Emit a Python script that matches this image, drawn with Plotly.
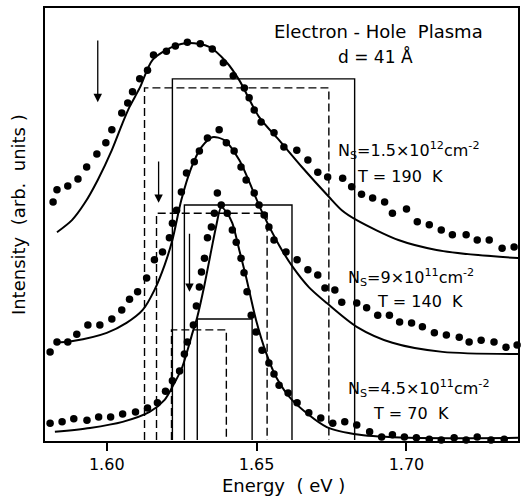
import plotly.graph_objects as go

# ---------------- data (energy in eV, intensity in arb. units) ----------------
# N_s = 1.5e12 cm^-2, T = 190 K
top_dots_E = [1.5821,1.5834,1.5870,1.5904,1.5933,1.5967,1.5997,1.6017,1.6050,1.6070,1.6086,1.6110,
              1.6136,1.6156,1.6199,1.6229,1.6269,1.6312,1.6352,1.6389,1.6422,1.6459,1.6475,1.6492,
              1.6515,1.6558,1.6591,1.6634,1.6671,1.6704,1.6737,1.6787,1.6817,1.6850,1.6887,1.6927,
              1.6953,1.7000,1.7036,1.7076,1.7116,1.7153,1.7199,1.7236,1.7276,1.7319,1.7359]
top_dots_I = [55.1,57.9,58.8,60.4,63.2,66.2,68.8,71.8,75.7,78.0,80.6,83.6,85.6,89.1,90.0,91.2,
              92.1,91.7,90.5,87.3,84.3,81.5,79.2,76.4,73.6,71.1,67.8,67.1,64.8,62.0,60.9,60.6,
              58.6,56.9,56.0,55.1,52.5,53.5,50.5,49.8,48.6,47.5,47.5,46.3,46.3,44.4,44.7]
top_fit_E = [1.5834,1.5884,1.5927,1.5970,1.6017,1.6053,1.6076,1.6110,1.6153,1.6219,1.6276,1.6342,
             1.6399,1.6442,1.6508,1.6575,1.6651,1.6741,1.6784,1.6834,1.6973,1.7100,1.7239,1.7375]
top_fit_I = [48.1,50.9,54.9,60.2,67.1,73.4,77.1,81.5,88.0,91.0,91.9,91.0,87.5,83.3,74.8,69.4,
             63.2,56.3,53.2,50.9,46.3,44.0,42.8,42.1]

# N_s = 9e11 cm^-2, T = 140 K
mid_dots_E = [1.5811,1.5834,1.5870,1.5900,1.5937,1.5977,1.6017,1.6050,1.6076,1.6103,1.6133,1.6159,
              1.6186,1.6209,1.6219,1.6233,1.6249,1.6266,1.6292,1.6309,1.6336,1.6375,1.6399,1.6425,
              1.6448,1.6465,1.6492,1.6508,1.6525,1.6541,1.6558,1.6598,1.6635,1.6671,1.6704,1.6728,
              1.6761,1.6784,1.6834,1.6867,1.6904,1.6943,1.6977,1.7017,1.7053,1.7093,1.7133,1.7176,
              1.7209,1.7249,1.7292,1.7332,1.7369]
mid_dots_I = [20.4,22.7,22.7,24.5,26.6,26.6,28.0,30.1,32.6,34.3,37.5,41.7,43.5,46.8,50.2,53.2,
              57.4,61.8,64.4,66.9,69.9,71.8,68.8,66.9,63.2,60.2,57.2,54.4,52.1,49.3,46.3,43.5,
              41.7,39.4,38.2,35.2,34.7,31.9,31.7,30.6,28.9,28.9,27.3,27.1,26.2,24.8,24.3,23.8,
              22.7,23.1,22.7,21.5,22.0]
mid_fit_E = [1.5827,1.5887,1.6000,1.6066,1.6120,1.6159,1.6193,1.6219,1.6249,1.6282,1.6316,1.6352,
             1.6392,1.6442,1.6518,1.6575,1.6621,1.6674,1.6734,1.6834,1.6953,1.7120,1.7375]
mid_fit_I = [22.5,22.9,24.8,27.1,30.1,34.7,40.5,46.3,55.6,63.0,67.8,70.1,69.4,64.8,52.8,45.1,
             40.0,35.4,31.7,26.2,22.5,20.4,19.9]

# N_s = 4.5e11 cm^-2, T = 70 K
bot_dots_E = [1.5811,1.5851,1.5890,1.5934,1.5973,1.6013,1.6053,1.6096,1.6136,1.6169,1.6196,1.6219,
              1.6243,1.6259,1.6269,1.6289,1.6299,1.6309,1.6316,1.6326,1.6336,1.6349,1.6359,1.6369,
              1.6382,1.6402,1.6419,1.6432,1.6448,1.6458,1.6468,1.6482,1.6498,1.6518,1.6541,1.6558,
              1.6575,1.6605,1.6635,1.6674,1.6714,1.6754,1.6794,1.6834,1.6877,1.6917,1.6953,1.6993,
              1.7033,1.7076,1.7116,1.7159,1.7199,1.7236,1.7282,1.7326,1.7365]
bot_dots_I = [3.9,4.2,4.9,4.6,5.3,5.3,6.0,6.5,7.4,8.6,11.3,13.7,16.0,19.9,22.7,26.6,31.0,35.4,
              38.9,42.1,46.8,49.3,52.5,57.2,54.4,52.5,48.6,45.8,42.1,38.7,34.3,28.9,25.0,20.8,
              17.8,15.3,12.7,10.9,8.6,6.3,5.1,3.9,4.2,3.5,1.9,0.7,1.2,0.7,0.5,0.2,0.0,0.5,0.0,
              0.7,0.0,0.2,-0.5]
bot_fit_E = [1.5827,1.5944,1.6053,1.6143,1.6193,1.6219,1.6252,1.6286,1.6302,1.6326,1.6349,1.6365,
             1.6382,1.6399,1.6419,1.6442,1.6465,1.6498,1.6532,1.6565,1.6618,1.6734,1.6844,1.7010,1.7375]
bot_fit_I = [1.9,2.8,4.2,6.5,9.3,12.3,16.9,24.8,28.5,35.9,44.0,49.5,53.9,52.8,50.2,44.0,37.7,
             27.8,20.1,14.6,9.3,3.0,1.2,0.5,0.5]

# step-like densities of states: (left edge, right edge, height) solid and dashed
steps_solid = [(1.6219, 1.6827, 83.6), (1.6259, 1.6618, 54.4), (1.6302, 1.6485, 28.0)]
steps_dashed = [(1.6126, 1.6741, 81.5), (1.6166, 1.6535, 52.5), (1.6216, 1.6399, 25.5)]

# arrows: energy, start intensity, end intensity
arrows = [(1.5970, 92.8, 78.2), (1.6173, 64.8, 54.9), (1.6276, 48.1, 34.3)]

x_ticks = [1.60, 1.65, 1.70]
x_tick_labels = ["1.60", "1.65", "1.70"]

NB = "\u00a0"
labels = [
    (1.6551, 94.5, f"Electron{NB}-{NB}Hole{NB}{NB}Plasma", 18),
    (1.6764, 88.7, f"d{NB}={NB}41{NB}Å", 17),
    (1.6764, 67.0, "N<sub>S</sub>=1.5×10<sup>12</sup>cm<sup>-2</sup>", 16),
    (1.6827, 61.0, f"T{NB}={NB}190{NB}{NB}K", 16),
    (1.6797, 37.7, "N<sub>S</sub>=9×10<sup>11</sup>cm<sup>-2</sup>", 16),
    (1.6894, 32.1, f"T{NB}={NB}140{NB}{NB}K", 16),
    (1.6797, 12.0, "N<sub>S</sub>=4.5×10<sup>11</sup>cm<sup>-2</sup>", 16),
    (1.6880, 6.2, f"T{NB}={NB}70{NB}{NB}K", 16),
]

FONT = "DejaVu Sans"
fig = go.Figure()

def add_step(l, r, h, dash):
    fig.add_trace(go.Scatter(x=[l, l, r, r], y=[0, h, h, 0], mode="lines",
                             line=dict(color="black", width=1.4, dash=dash),
                             showlegend=False, hoverinfo="skip"))

for l, r, h in steps_solid:
    add_step(l, r, h, "solid")
for l, r, h in steps_dashed:
    add_step(l, r, h, "8px,4px")

for E, I in [(top_fit_E, top_fit_I), (mid_fit_E, mid_fit_I), (bot_fit_E, bot_fit_I)]:
    fig.add_trace(go.Scatter(x=E, y=I, mode="lines",
                             line=dict(color="black", width=2, shape="spline", smoothing=0.8),
                             showlegend=False, hoverinfo="skip"))

for E, I in [(top_dots_E, top_dots_I), (mid_dots_E, mid_dots_I), (bot_dots_E, bot_dots_I)]:
    fig.add_trace(go.Scatter(x=E, y=I, mode="markers", marker=dict(color="black", size=7.5),
                             cliponaxis=False, showlegend=False, hoverinfo="skip"))

for E, y0, y1 in arrows:
    fig.add_annotation(x=E, y=y1, ax=E, ay=y0, xref="x", yref="y", axref="x", ayref="y",
                       showarrow=True, arrowhead=2, arrowsize=1.3, arrowwidth=1.3,
                       arrowcolor="black", text="")

for x, y, t, s in labels:
    fig.add_annotation(x=x, y=y, xref="x", yref="y", text=t, showarrow=False,
                       font=dict(family=FONT, size=s, color="black"),
                       xanchor="left", yanchor="middle")

# axis titles
fig.add_annotation(x=0.505, y=-0.103, xref="paper", yref="paper", showarrow=False,
                   text=f"Energy{NB}{NB}({NB}eV{NB})", font=dict(family=FONT, size=18, color="black"),
                   xanchor="center", yanchor="middle")
fig.add_annotation(x=-0.0547, y=0.522, xref="paper", yref="paper", showarrow=False, textangle=-90,
                   text=f"Intensity{NB}{NB}(arb.{NB}{NB}units{NB})", font=dict(family=FONT, size=18, color="black"),
                   xanchor="center", yanchor="middle")

fig.update_layout(
    width=522, height=499,
    margin=dict(l=45, r=2, t=8, b=58),
    plot_bgcolor="white", paper_bgcolor="white",
    font=dict(family=FONT, size=16, color="black"),
    xaxis=dict(range=[1.5794, 1.7372], showgrid=False, zeroline=False, showline=True, mirror=True,
               linecolor="black", linewidth=1.5, ticks="outside", ticklen=8, tickwidth=1.5,
               tickcolor="black", tickvals=x_ticks, ticktext=x_tick_labels,
               tickfont=dict(family=FONT, size=16)),
    yaxis=dict(range=[-0.23, 100], showgrid=False, zeroline=False, showline=True, mirror=True,
               linecolor="black", linewidth=1.5, showticklabels=False, ticks=""),
)

fig.write_html("out.html")
